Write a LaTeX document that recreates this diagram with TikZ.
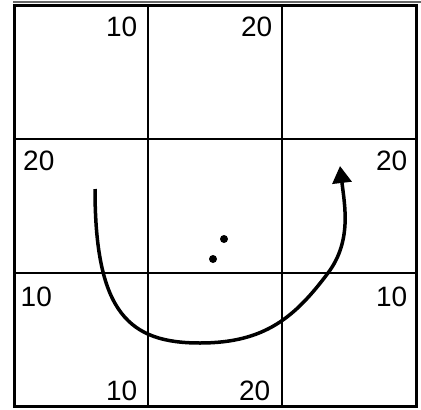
\documentclass[tikz,border=0pt]{standalone}
\usepackage{fontspec}
\setmainfont{Liberation Sans}
\usetikzlibrary{arrows.meta}
\begin{document}
\begin{tikzpicture}[x=1pt,y=-1pt,
  gridline/.style={line width=1.2pt,black},
  frame/.style={line width=3pt,black},
  lbl/.style={inner sep=0pt,font=\fontsize{28}{30}\selectfont},
  curvearrow/.style={line width=3.5pt,-{Triangle[length=17pt,width=19pt]}},
  dotmark/.style={circle,fill=black,inner sep=0pt,minimum size=8pt}]
\useasboundingbox (0,0) rectangle (421,410);
% top thin line
\coordinate (tl) at (13,2);
\coordinate (tr) at (421,2);
\draw[black!60,line width=1.8pt] (tl) -- (tr);
% grid
\coordinate (a1) at (148,5);  \coordinate (a2) at (148,406);
\coordinate (b1) at (282,5);  \coordinate (b2) at (282,406);
\coordinate (c1) at (14,139); \coordinate (c2) at (416,139);
\coordinate (d1) at (14,273); \coordinate (d2) at (416,273);
\draw[gridline] (a1) -- (a2);
\draw[gridline] (b1) -- (b2);
\draw[gridline] (c1) -- (c2);
\draw[gridline] (d1) -- (d2);
\draw[frame] (14,5.5) rectangle (416,406);
% labels
\node[lbl,anchor=base east] (t1) at (137.5,36.5) {10};
\node[lbl,anchor=base east] (t2) at (272.5,36.5) {20};
\node[lbl,anchor=base west] (m1) at (23,170.5) {20};
\node[lbl,anchor=base east] (m2) at (407.5,170.5) {20};
\node[lbl,anchor=base west] (n1) at (20.5,306.5) {10};
\node[lbl,anchor=base east] (n2) at (407.5,306.5) {10};
\node[lbl,anchor=base east] (u1) at (137.5,400) {10};
\node[lbl,anchor=base east] (u2) at (270.5,400) {20};
% dots
\node[dotmark] (p1) at (224,239) {};
\node[dotmark] (p2) at (213,259) {};
% curve
\coordinate (s) at (95,189);
\coordinate (bot) at (200,343);
\coordinate (mid) at (328,273);
\coordinate (e) at (340,166);
\draw[curvearrow] (s) .. controls (95,314) and (130,343) .. (bot)
  .. controls (265,343) and (295,317) .. (mid)
  .. controls (352,241) and (344.7,205.7) .. (e);
\end{tikzpicture}
\end{document}
